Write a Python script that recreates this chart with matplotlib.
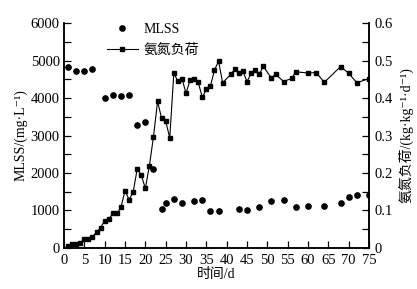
import matplotlib
matplotlib.use("Agg")
import matplotlib.pyplot as plt
from matplotlib.ticker import MultipleLocator
from matplotlib.lines import Line2D

FAM = ['Liberation Serif', 'Noto Sans CJK SC', 'DejaVu Sans']
plt.rcParams['font.family'] = FAM

mlss_days = [1, 3, 5, 7, 10, 12, 14, 16, 18, 20, 22, 24, 25, 27, 29, 32, 34, 36, 38,
             43, 45, 48, 51, 54, 57, 60, 64, 68, 70, 72, 75]
mlss = [4830, 4720, 4730, 4770, 4000, 4080, 4050, 4080, 3280, 3360, 2100, 1040, 1210,
        1310, 1200, 1240, 1270, 980, 990, 1030, 1010, 1090, 1260, 1270, 1090, 1130,
        1120, 1200, 1360, 1400, 1420]

load_days = [1, 2, 3, 4, 5, 6, 7, 8, 9, 10, 11, 12, 13, 14, 15, 16, 17, 18, 19, 20, 21,
             22, 23, 24, 25, 26, 27, 28, 29, 30, 31, 32, 33, 34, 35, 36, 37, 38, 39,
             41, 42, 43, 44, 45, 46, 47, 48, 49, 51, 52, 54, 56, 57, 60, 62, 64, 68,
             70, 72, 75]
load = [0.005, 0.010, 0.010, 0.014, 0.023, 0.023, 0.030, 0.042, 0.054, 0.073, 0.077,
        0.092, 0.092, 0.108, 0.153, 0.129, 0.149, 0.211, 0.194, 0.159, 0.220,
        0.297, 0.391, 0.346, 0.338, 0.294, 0.466, 0.445, 0.452, 0.413, 0.448, 0.451,
        0.442, 0.402, 0.423, 0.432, 0.475, 0.498, 0.441,
        0.463, 0.477, 0.468, 0.471, 0.444, 0.466, 0.475, 0.463, 0.485, 0.453, 0.464,
        0.444, 0.453, 0.470, 0.467, 0.468, 0.442, 0.484, 0.466, 0.441, 0.452]
load_ticks = [0, 0.1, 0.2, 0.3, 0.4, 0.5, 0.6]
load_labels = ['0', '0.1', '0.2', '0.3', '0.4', '0.5', '0.6']

fig = plt.figure(figsize=(4.17, 2.89), dpi=100)
ax = fig.add_axes([0.1535, 0.142, 0.7315, 0.778])
ax2 = ax.twinx()

ax.plot(mlss_days, mlss, 'o', color='black', markersize=3.8, linestyle='none', zorder=3)
ax2.plot(load_days, load, '-s', color='black', markersize=3.4, linewidth=0.8, zorder=3)

ax.set_xlim(0, 75)
ax.set_ylim(0, 6000)
ax2.set_ylim(0, 0.6)

ax.xaxis.set_major_locator(MultipleLocator(5))
ax.yaxis.set_major_locator(MultipleLocator(1000))
ax.yaxis.set_minor_locator(MultipleLocator(500))
ax2.set_yticks(load_ticks)
ax2.set_yticklabels(load_labels)
ax2.yaxis.set_minor_locator(MultipleLocator(0.05))

for a in (ax, ax2):
    a.spines['top'].set_visible(False)
    for s in a.spines.values():
        s.set_linewidth(1.1)
    a.tick_params(which='both', direction='in', labelsize=10.5, width=0.9)
    a.tick_params(which='major', length=5)
    a.tick_params(which='minor', length=5)
ax.tick_params(axis='y', right=False, which='both', pad=3)
ax.tick_params(axis='x', pad=4)
ax2.tick_params(axis='y', pad=4)

ax.set_xlabel('时间/d', fontsize=10, labelpad=1)
ax.set_ylabel('MLSS/(mg·L⁻¹)', fontsize=10, labelpad=2)
ax2.set_ylabel('氨氮负荷/(kg·kg⁻¹·d⁻¹)', fontsize=10, labelpad=4)

handles = [Line2D([], [], marker='o', color='black', linestyle='none', markersize=3.8),
           Line2D([], [], marker='s', color='black', linewidth=0.8, markersize=3.4)]
leg = ax.legend(handles, ['MLSS', '氨氮负荷'], loc='upper left',
                bbox_to_anchor=(0.1, 1.057), frameon=False,
                handlelength=2.2, handletextpad=0.4, labelspacing=0.55,
                prop={'family': FAM, 'size': 10})

fig.savefig('out.png', dpi=100)
